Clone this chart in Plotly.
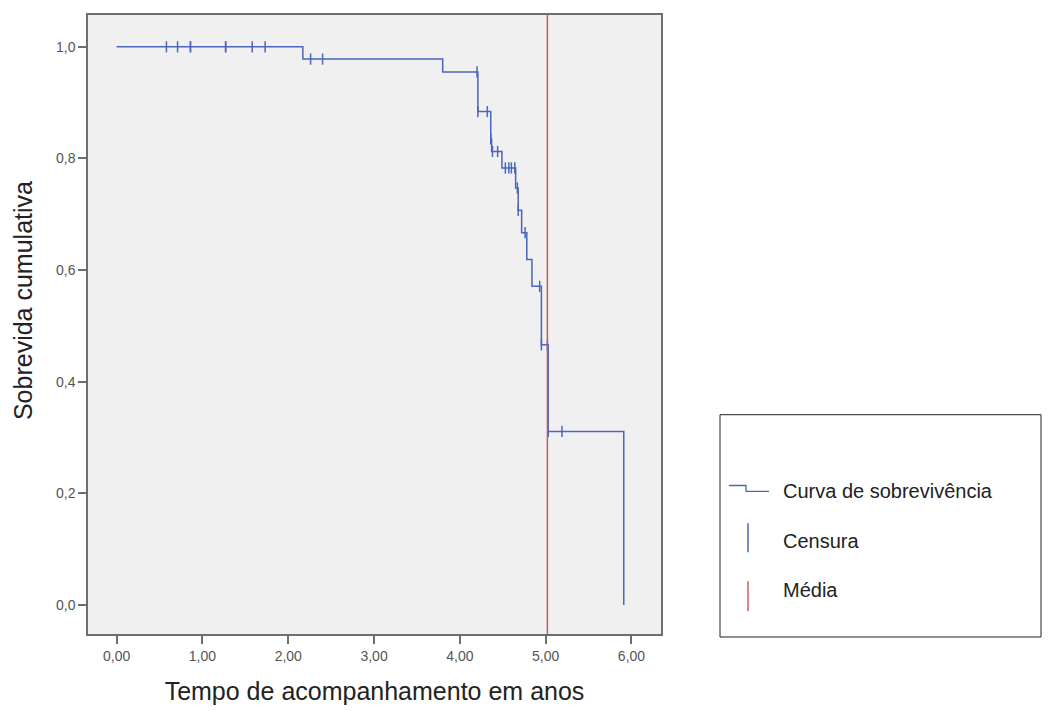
import numpy as np
import plotly.graph_objects as go

# ---- data ----
event_times = [0.0, 2.17, 3.80, 4.21, 4.36, 4.37, 4.49, 4.65, 4.68, 4.72, 4.78, 4.84, 4.95, 5.03, 5.91]
survival = [1.0, 0.978, 0.955, 0.884, 0.835, 0.8125, 0.783, 0.747, 0.707, 0.667, 0.619, 0.571, 0.466, 0.311, 0.0]
censor_times = [0.58, 0.71, 0.86, 0.86, 1.27, 1.27, 1.58, 1.73, 2.26, 2.40, 4.20, 4.21, 4.32, 4.36,
                4.38, 4.44, 4.53, 4.57, 4.60, 4.64, 4.67, 4.68, 4.76, 4.93, 4.95, 5.02, 5.03, 5.19]
mean_time = 5.02

x_tick_vals = [0, 1, 2, 3, 4, 5, 6]
x_tick_text = ["0,00", "1,00", "2,00", "3,00", "4,00", "5,00", "6,00"]
y_tick_vals = [0.0, 0.2, 0.4, 0.6, 0.8, 1.0]
y_tick_text = ["0,0", "0,2", "0,4", "0,6", "0,8", "1,0"]

legend_labels = ["Curva de sobrevivência", "Censura", "Média"]
x_title = "Tempo de acompanhamento em anos"
y_title = "Sobrevida cumulativa"

# survival level at each censoring time (step function lookup)
idx = np.searchsorted(np.array(event_times), np.array(censor_times), side="right") - 1
censor_surv = [survival[i] for i in idx]

BLUE = "#4A66BE"
RED = "#D05858"

fig = go.Figure()
fig.add_trace(go.Scatter(x=event_times, y=survival, mode="lines", line_shape="hv",
                         line=dict(color=BLUE, width=1.5), showlegend=False, hoverinfo="skip"))
fig.add_trace(go.Scatter(x=censor_times, y=censor_surv, mode="markers",
                         marker=dict(symbol="line-ns-open", size=8, color=BLUE,
                                     line=dict(color=BLUE, width=1.5)),
                         showlegend=False))

fig.add_vline(x=mean_time, line=dict(color=RED, width=1.5))

# page offset (body margin) and plot geometry in page pixels
OFF = 8
L, T, R, B = 88, 13, 661, 634
W, H = 1051 - OFF, 711 - OFF

def px(p):
    return (p - L) / (R - L)

def py(p):
    return (B - p) / (B - T)

shapes = []
shapes.append(dict(type="rect", xref="paper", yref="paper",
                   x0=px(720), x1=px(1041), y0=py(414), y1=py(637),
                   line=dict(color="#222222", width=1), fillcolor="white", layer="above"))
shapes.append(dict(type="path", xref="paper", yref="paper",
                   path=f"M {px(729)} {py(485)} L {px(746)} {py(485)} L {px(746)} {py(491)} L {px(769)} {py(491)}",
                   line=dict(color=BLUE, width=1.3)))
shapes.append(dict(type="line", xref="paper", yref="paper",
                   x0=px(748), x1=px(748), y0=py(523), y1=py(552),
                   line=dict(color=BLUE, width=1.5)))
shapes.append(dict(type="line", xref="paper", yref="paper",
                   x0=px(748), x1=px(748), y0=py(581), y1=py(611),
                   line=dict(color=RED, width=1.5)))

annotations = []
for lab, yy in zip(legend_labels, [491, 541, 590]):
    annotations.append(dict(text=lab, xref="paper", yref="paper", x=px(781), y=py(yy),
                            xanchor="left", yanchor="middle", showarrow=False,
                            font=dict(family="Liberation Sans, Arial", size=20, color="#222222")))
annotations.append(dict(text=y_title, xref="paper", yref="paper", x=px(23), y=py(300),
                        xanchor="center", yanchor="middle", textangle=-90, showarrow=False,
                        font=dict(family="Liberation Sans, Arial", size=25, color="#222222")))

fig.update_layout(
    width=W, height=H,
    margin=dict(l=L - OFF, r=(W + OFF) - R, t=T - OFF, b=(H + OFF) - B, pad=0),
    paper_bgcolor="white", plot_bgcolor="#F0F0F0",
    shapes=fig.layout.shapes + tuple(shapes),
    annotations=annotations,
    font=dict(family="Liberation Sans, Arial"),
)

fig.update_xaxes(range=[-0.334, 6.344], tickvals=x_tick_vals, ticktext=x_tick_text,
                 showgrid=False, zeroline=False, showline=True, mirror=True,
                 linecolor="#6E6E6E", linewidth=1.5, ticks="outside", ticklen=8,
                 tickcolor="#6E6E6E", tickwidth=1.5,
                 tickfont=dict(size=14, color="#555555"),
                 title=dict(text=x_title, standoff=20,
                            font=dict(size=25, color="#222222")))
fig.update_yaxes(range=[-0.052, 1.057], tickvals=y_tick_vals, ticktext=y_tick_text,
                 showgrid=False, zeroline=False, showline=True, mirror=True,
                 linecolor="#6E6E6E", linewidth=1.5, ticks="outside", ticklen=8,
                 tickcolor="#6E6E6E", tickwidth=1.5,
                 tickfont=dict(size=14, color="#555555"))

fig.write_html("out.html")
